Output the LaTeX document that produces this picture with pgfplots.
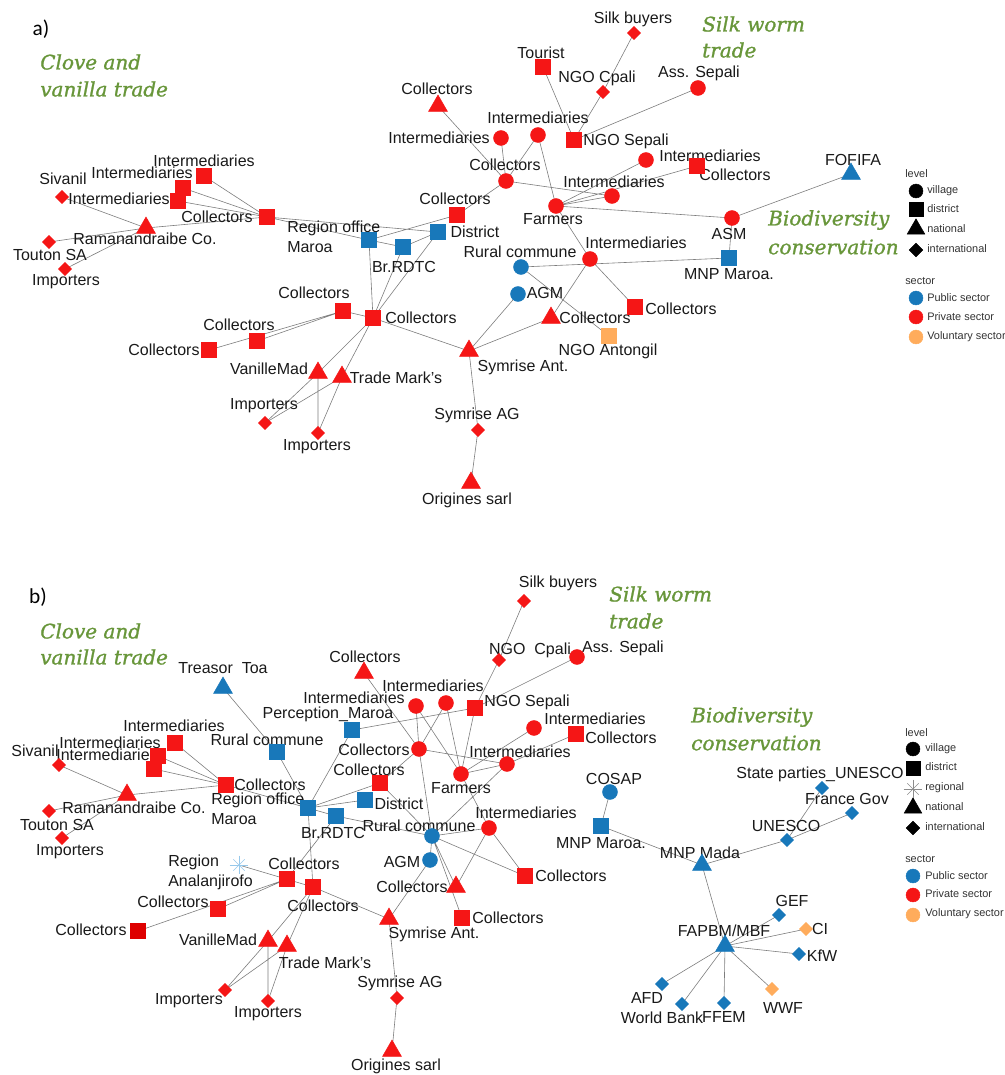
\documentclass[border=0pt]{standalone}
\usepackage{pgfplots}
\pgfplotsset{compat=1.18}
\usepackage{fontspec}
\setmainfont{Liberation Sans}
\newfontfamily\titlefont[ItalicFeatures={FakeBold=1.2}]{DejaVu Serif}
\newfontfamily\panelfont{Carlito}
\definecolor{nred}{RGB}{245,22,22}
\definecolor{nblue}{RGB}{24,120,186}
\definecolor{norange}{RGB}{255,172,92}
\definecolor{ndred}{RGB}{222,0,0}
\definecolor{lblue}{RGB}{150,200,235}
\definecolor{tgreen}{RGB}{104,150,58}
\definecolor{egray}{RGB}{125,125,125}
\begin{document}
\begin{tikzpicture}[
  lab/.style={font=\fontsize{12}{14}\selectfont, inner sep=0pt, text=black!90},
  leg/.style={font=\fontsize{8.2}{10}\selectfont, text=black!80, inner sep=0pt, anchor=west},
  ttl/.style={font=\titlefont\itshape\fontsize{15}{18}\selectfont, text=tgreen, inner sep=0pt, anchor=west},
]
\begin{axis}[scale only axis, width=753.75pt, height=806.25pt,
  xmin=0, xmax=1005, ymin=0, ymax=1075, y dir=reverse, hide axis, clip=false,
  unbounded coords=jump,
  edge/.style={egray, line width=0.45pt, mark=none},
  circ/.style={only marks, mark=*, mark size=5.6pt},
  sq/.style={only marks, mark=square*, mark size=5.6pt},
  tri/.style={only marks, mark=triangle*, mark size=8.2pt},
  dia/.style={only marks, mark=square*, mark size=3.5pt, mark options={rotate=45}},
]
\coordinate (c1) at (rel axis cs:0,0);
\coordinate (c2) at (rel axis cs:1,1);
% ================= PANEL A : edges =================
\addplot[edge] coordinates {
(62,197)(146,228) (nan,nan)
(49,242)(146,228) (nan,nan)
(65,269)(146,228) (nan,nan)
(146,228)(267,217) (nan,nan)
(204,176)(267,217) (nan,nan)
(183,188)(267,217) (nan,nan)
(178,201)(267,217) (nan,nan)
(267,217)(369,240) (nan,nan)
(267,217)(438,232) (nan,nan)
(369,240)(403,247) (nan,nan)
(369,240)(457,215) (nan,nan)
(403,247)(438,232) (nan,nan)
(369,240)(373,318) (nan,nan)
(403,247)(373,318) (nan,nan)
(438,232)(373,318) (nan,nan)
(457,215)(506,181) (nan,nan)
(438,106)(506,181) (nan,nan)
(501,138)(506,181) (nan,nan)
(538,135)(506,181) (nan,nan)
(506,181)(612,196) (nan,nan)
(538,135)(556,206) (nan,nan)
(543,67)(574,140) (nan,nan)
(634,33)(603,92)(574,140) (nan,nan)
(698,88)(574,140) (nan,nan)
(556,206)(646,160) (nan,nan)
(556,206)(612,196) (nan,nan)
(556,206)(697,166) (nan,nan)
(556,206)(732,218) (nan,nan)
(732,218)(851,174) (nan,nan)
(732,218)(729,258) (nan,nan)
(556,206)(590,259) (nan,nan)
(521,267)(729,258) (nan,nan)
(521,267)(609,336) (nan,nan)
(590,259)(551,318) (nan,nan)
(590,259)(635,307) (nan,nan)
(518,294)(469,351) (nan,nan)
(551,318)(469,351) (nan,nan)
(373,318)(469,351) (nan,nan)
(373,318)(343,311) (nan,nan)
(343,311)(257,341) (nan,nan)
(343,311)(209,350) (nan,nan)
(373,318)(318,373) (nan,nan)
(373,318)(342,377) (nan,nan)
(318,373)(265,423) (nan,nan)
(318,373)(318,433) (nan,nan)
(342,377)(265,423) (nan,nan)
(342,377)(318,433) (nan,nan)
(469,351)(478,430)(471,483)
};
% ================= PANEL B : edges =================
\addplot[edge] coordinates {
(59,765)(127,795) (nan,nan)
(49,811)(127,795) (nan,nan)
(62,838)(127,795) (nan,nan)
(127,795)(226,785) (nan,nan)
(175,743)(226,785) (nan,nan)
(158,756)(226,785) (nan,nan)
(154,769)(226,785) (nan,nan)
(226,785)(308,808) (nan,nan)
(223,688)(277,752)(308,808) (nan,nan)
(308,808)(352,730)(475,708) (nan,nan)
(308,808)(380,783) (nan,nan)
(308,808)(365,800) (nan,nan)
(308,808)(336,816)(432,836) (nan,nan)
(308,808)(313,887) (nan,nan)
(336,816)(287,879) (nan,nan)
(239,865)(313,887) (nan,nan)
(287,879)(218,909) (nan,nan)
(287,879)(138,931) (nan,nan)
(313,887)(268,941) (nan,nan)
(313,887)(287,946) (nan,nan)
(268,941)(225,990) (nan,nan)
(268,941)(268,1001) (nan,nan)
(287,946)(225,990) (nan,nan)
(287,946)(268,1001) (nan,nan)
(313,887)(389,919) (nan,nan)
(389,919)(430,860) (nan,nan)
(389,919)(397,998)(392,1051) (nan,nan)
(432,836)(430,860) (nan,nan)
(432,836)(456,887) (nan,nan)
(432,836)(462,918) (nan,nan)
(432,836)(525,876) (nan,nan)
(432,836)(489,828) (nan,nan)
(432,836)(419,749) (nan,nan)
(432,836)(380,783) (nan,nan)
(432,836)(507,764) (nan,nan)
(489,828)(525,876) (nan,nan)
(489,828)(456,887) (nan,nan)
(461,774)(489,828) (nan,nan)
(419,749)(364,673) (nan,nan)
(419,749)(416,706) (nan,nan)
(419,749)(446,703) (nan,nan)
(419,749)(380,783) (nan,nan)
(419,749)(507,764) (nan,nan)
(416,706)(461,774) (nan,nan)
(446,703)(461,774) (nan,nan)
(475,708)(461,774) (nan,nan)
(461,774)(534,728) (nan,nan)
(461,774)(507,764) (nan,nan)
(507,764)(576,734) (nan,nan)
(524,601)(499,660)(475,708) (nan,nan)
(577,657)(475,708) (nan,nan)
(610,792)(601,826)(702,865)(787,840)(822,788) (nan,nan)
(787,840)(852,813) (nan,nan)
(702,865)(725,946) (nan,nan)
(725,946)(779,915) (nan,nan)
(725,946)(806,929) (nan,nan)
(725,946)(799,954) (nan,nan)
(725,946)(772,989) (nan,nan)
(725,946)(724,1003) (nan,nan)
(725,946)(682,1004) (nan,nan)
(725,946)(662,984)
};
% ================= PANEL A : nodes =================
\addplot[circ, nred] coordinates {(501,138)(538,135)(506,181)(646,160)(612,196)(556,206)(732,218)(590,259)(698,88)};
\addplot[circ, nblue] coordinates {(521,267)(518,294)};
\addplot[sq, nred] coordinates {(204,176)(183,188)(178,201)(267,217)(457,215)(574,140)(543,67)(697,166)(635,307)(373,318)(343,311)(257,341)(209,350)};
\addplot[sq, nblue] coordinates {(369,240)(403,247)(438,232)(729,258)};
\addplot[sq, norange] coordinates {(609,336)};
\addplot[tri, nred] coordinates {(146,228)(438,106)(551,318)(318,373)(342,377)(469,351)(471,483)};
\addplot[tri, nblue] coordinates {(851,174)};
\addplot[dia, nred] coordinates {(62,197)(49,242)(65,269)(603,92)(634,33)(265,423)(318,433)(478,430)};
% ================= PANEL B : nodes =================
\addplot[circ, nred] coordinates {(416,706)(446,703)(577,657)(419,749)(461,774)(534,728)(507,764)(489,828)};
\addplot[circ, nblue] coordinates {(432,836)(430,860)(610,792)};
\addplot[sq, nred] coordinates {(175,743)(158,756)(154,769)(226,785)(380,783)(475,708)(576,734)(525,876)(462,918)(287,879)(313,887)(218,909)};
\addplot[sq, ndred] coordinates {(138,931)};
\addplot[sq, nblue] coordinates {(277,752)(308,808)(336,816)(365,800)(352,730)(601,826)};
\addplot[tri, nred] coordinates {(127,795)(364,673)(456,887)(268,941)(287,946)(389,919)(392,1051)};
\addplot[tri, nblue] coordinates {(223,688)(702,865)(725,946)};
\addplot[dia, nred] coordinates {(59,765)(49,811)(62,838)(499,660)(524,601)(225,990)(268,1001)(397,998)};
\addplot[dia, nblue] coordinates {(787,840)(822,788)(852,813)(779,915)(799,954)(724,1003)(682,1004)(662,984)};
\addplot[dia, norange] coordinates {(806,929)(772,989)};
\addplot[only marks, mark=+, mark size=7pt, lblue, line width=0.5pt] coordinates {(239,865)};
\addplot[only marks, mark=x, mark size=6pt, lblue, line width=0.5pt] coordinates {(239,865)};
% ================= LEGENDS =================
\addplot[circ, black, mark size=5.2pt] coordinates {(916,191)(913,749)};
\addplot[sq, black, mark size=5.2pt] coordinates {(916,209)(913,768)};
\addplot[tri, black, mark size=7.6pt] coordinates {(916,229)(913,808)};
\addplot[dia, black, mark size=3.6pt] coordinates {(916,250)(913,828)};
\addplot[only marks, mark=+, mark size=7pt, black!45, line width=0.4pt] coordinates {(913,789)};
\addplot[only marks, mark=x, mark size=6pt, black!45, line width=0.4pt] coordinates {(913,789)};
\addplot[circ, nblue, mark size=5.2pt] coordinates {(916,298)(913,876)};
\addplot[circ, nred, mark size=5.2pt] coordinates {(916,317)(913,895)};
\addplot[circ, norange, mark size=5.2pt] coordinates {(916,337)(913,915)};

% ---- legend texts
\node[leg] at (axis cs:905,174) {level};
\node[leg] at (axis cs:927,191) {village};
\node[leg] at (axis cs:927,209) {district};
\node[leg] at (axis cs:927,229) {national};
\node[leg] at (axis cs:927,249) {international};
\node[leg] at (axis cs:905,281) {sector};
\node[leg] at (axis cs:927,298) {Public sector};
\node[leg] at (axis cs:927,317) {Private sector};
\node[leg] at (axis cs:927,337) {Voluntary sector};
\node[leg] at (axis cs:905,733) {level};
\node[leg] at (axis cs:925,749) {village};
\node[leg] at (axis cs:925,767) {district};
\node[leg] at (axis cs:925,788) {regional};
\node[leg] at (axis cs:925,807) {national};
\node[leg] at (axis cs:925,827) {international};
\node[leg] at (axis cs:905,859) {sector};
\node[leg] at (axis cs:925,876) {Public sector};
\node[leg] at (axis cs:925,894) {Private sector};
\node[leg] at (axis cs:925,914) {Voluntary sector};

% ---- panel letters and titles
\node[font=\panelfont\fontsize{16}{18}\selectfont, inner sep=0pt] at (axis cs:41,29) {a)};
\node[font=\panelfont\fontsize{16}{18}\selectfont, inner sep=0pt] at (axis cs:38,597) {b)};
\node[ttl] at (axis cs:40,62) {Clove and};
\node[ttl] at (axis cs:40,89) {vanilla trade};
\node[ttl] at (axis cs:702,24) {Silk worm};
\node[ttl] at (axis cs:702,50) {trade};
\node[ttl] at (axis cs:768,220) {Biodiversity};
\node[ttl] at (axis cs:768,247) {conservation};
\node[ttl] at (axis cs:40,631) {Clove and};
\node[ttl] at (axis cs:40,657) {vanilla trade};
\node[ttl] at (axis cs:609,594) {Silk worm};
\node[ttl] at (axis cs:609,621) {trade};
\node[ttl] at (axis cs:691,717) {Biodiversity};
\node[ttl] at (axis cs:691,743) {conservation};

% ---- panel a labels
\node[lab] at (axis cs:437,89) {Collectors};
\node[lab] at (axis cs:439,138) {Intermediaries};
\node[lab] at (axis cs:538,118) {Intermediaries};
\node[lab] at (axis cs:626,141) {NGO Sepali};
\node[lab] at (axis cs:541,53) {Tourist};
\node[lab] at (axis cs:597,78) {NGO Cpali};
\node[lab] at (axis cs:633,19) {Silk buyers};
\node[lab] at (axis cs:699,73) {Ass. Sepali};
\node[lab] at (axis cs:505,165) {Collectors};
\node[lab] at (axis cs:710,156) {Intermediaries};
\node[lab] at (axis cs:735,175) {Collectors};
\node[lab] at (axis cs:614,182) {Intermediaries};
\node[lab] at (axis cs:553,219) {Farmers};
\node[lab] at (axis cs:729,234) {ASM};
\node[lab] at (axis cs:853,160) {FOFIFA};
\node[lab] at (axis cs:636,243) {Intermediaries};
\node[lab] at (axis cs:520,252) {Rural commune};
\node[lab] at (axis cs:729,274) {MNP Maroa.};
\node[lab] at (axis cs:545,293) {AGM};
\node[lab] at (axis cs:595,318) {Collectors};
\node[lab] at (axis cs:681,309) {Collectors};
\node[lab] at (axis cs:608,351) {NGO Antongil};
\node[lab] at (axis cs:523,367) {Symrise Ant.};
\node[lab] at (axis cs:477,415) {Symrise AG};
\node[lab] at (axis cs:467,500) {Origines sarl};
\node[lab] at (axis cs:421,318) {Collectors};
\node[lab] at (axis cs:314,293) {Collectors};
\node[lab] at (axis cs:239,325) {Collectors};
\node[lab] at (axis cs:164,350) {Collectors};
\node[lab] at (axis cs:269,369) {VanilleMad};
\node[lab] at (axis cs:396,378) {Trade Mark's};
\node[lab] at (axis cs:264,406) {Importers};
\node[lab] at (axis cs:317,447) {Importers};
\node[lab] at (axis cs:404,267) {Br.RDTC};
\node[lab] at (axis cs:475,232) {District};
\node[lab] at (axis cs:455,199) {Collectors};
\node[lab, anchor=west] at (axis cs:287,228) {Region office};
\node[lab, anchor=west] at (axis cs:287,247) {Maroa};
\node[lab] at (axis cs:217,217) {Collectors};
\node[lab] at (axis cs:204,161) {Intermediaries};
\node[lab] at (axis cs:142,173) {Intermediaries};
\node[lab] at (axis cs:119,199) {Intermediaries};
\node[lab] at (axis cs:63,179) {Sivanil};
\node[lab] at (axis cs:145,239) {Ramanandraibe Co.};
\node[lab] at (axis cs:50,255) {Touton SA};
\node[lab] at (axis cs:66,282) {Importers};

% ---- panel b labels
\node[lab] at (axis cs:223,668) {Treasor\ \ Toa};
\node[lab] at (axis cs:365,657) {Collectors};
\node[lab] at (axis cs:354,698) {Intermediaries};
\node[lab] at (axis cs:433,686) {Intermediaries};
\node[lab] at (axis cs:527,702) {NGO Sepali};
\node[lab] at (axis cs:530,650) {NGO\ \ Cpali};
\node[lab] at (axis cs:623,648) {Ass. Sepali};
\node[lab] at (axis cs:558,583) {Silk buyers};
\node[lab] at (axis cs:328,714) {Perception\_Maroa};
\node[lab] at (axis cs:267,740) {Rural commune};
\node[lab] at (axis cs:174,726) {Intermediaries};
\node[lab] at (axis cs:110,743) {Intermediaries};
\node[lab] at (axis cs:107,755) {Intermediaries};
\node[lab] at (axis cs:35,751) {Sivanil};
\node[lab] at (axis cs:270,785) {Collectors};
\node[lab, anchor=west] at (axis cs:211,800) {Region office};
\node[lab, anchor=west] at (axis cs:211,819) {Maroa};
\node[lab] at (axis cs:134,808) {Ramanandraibe Co.};
\node[lab] at (axis cs:57,825) {Touton SA};
\node[lab] at (axis cs:70,852) {Importers};
\node[lab] at (axis cs:374,750) {Collectors};
\node[lab] at (axis cs:369,770) {Collectors};
\node[lab] at (axis cs:461,788) {Farmers};
\node[lab] at (axis cs:520,752) {Intermediaries};
\node[lab] at (axis cs:595,719) {Intermediaries};
\node[lab] at (axis cs:621,738) {Collectors};
\node[lab] at (axis cs:399,804) {District};
\node[lab] at (axis cs:333,833) {Br.RDTC};
\node[lab] at (axis cs:419,826) {Rural commune};
\node[lab] at (axis cs:526,813) {Intermediaries};
\node[lab] at (axis cs:402,862) {AGM};
\node[lab] at (axis cs:412,887) {Collectors};
\node[lab] at (axis cs:571,876) {Collectors};
\node[lab] at (axis cs:508,918) {Collectors};
\node[lab] at (axis cs:614,779) {COSAP};
\node[lab] at (axis cs:601,843) {MNP Maroa.};
\node[lab] at (axis cs:700,853) {MNP Mada};
\node[lab] at (axis cs:786,826) {UNESCO};
\node[lab] at (axis cs:820,774) {State parties\_UNESCO};
\node[lab] at (axis cs:847,799) {France Gov};
\node[lab] at (axis cs:792,901) {GEF};
\node[lab] at (axis cs:820,929) {CI};
\node[lab] at (axis cs:822,956) {KfW};
\node[lab] at (axis cs:724,931) {FAPBM/MBF};
\node[lab] at (axis cs:783,1008) {WWF};
\node[lab] at (axis cs:724,1017) {FFEM};
\node[lab] at (axis cs:662,1018) {World Bank};
\node[lab] at (axis cs:647,998) {AFD};
\node[lab, anchor=west] at (axis cs:168,862) {Region};
\node[lab, anchor=west] at (axis cs:168,882) {Analanjirofo};
\node[lab] at (axis cs:304,864) {Collectors};
\node[lab] at (axis cs:323,906) {Collectors};
\node[lab] at (axis cs:173,902) {Collectors};
\node[lab] at (axis cs:91,930) {Collectors};
\node[lab] at (axis cs:218,940) {VanilleMad};
\node[lab] at (axis cs:325,963) {Trade Mark's};
\node[lab] at (axis cs:189,1001) {Importers};
\node[lab] at (axis cs:268,1014) {Importers};
\node[lab] at (axis cs:434,934) {Symrise Ant.};
\node[lab] at (axis cs:400,983) {Symrise AG};
\node[lab] at (axis cs:396,1066) {Origines sarl};
\end{axis}
\pgfresetboundingbox
\path[use as bounding box] (c1) rectangle (c2);
\end{tikzpicture}
\end{document}
